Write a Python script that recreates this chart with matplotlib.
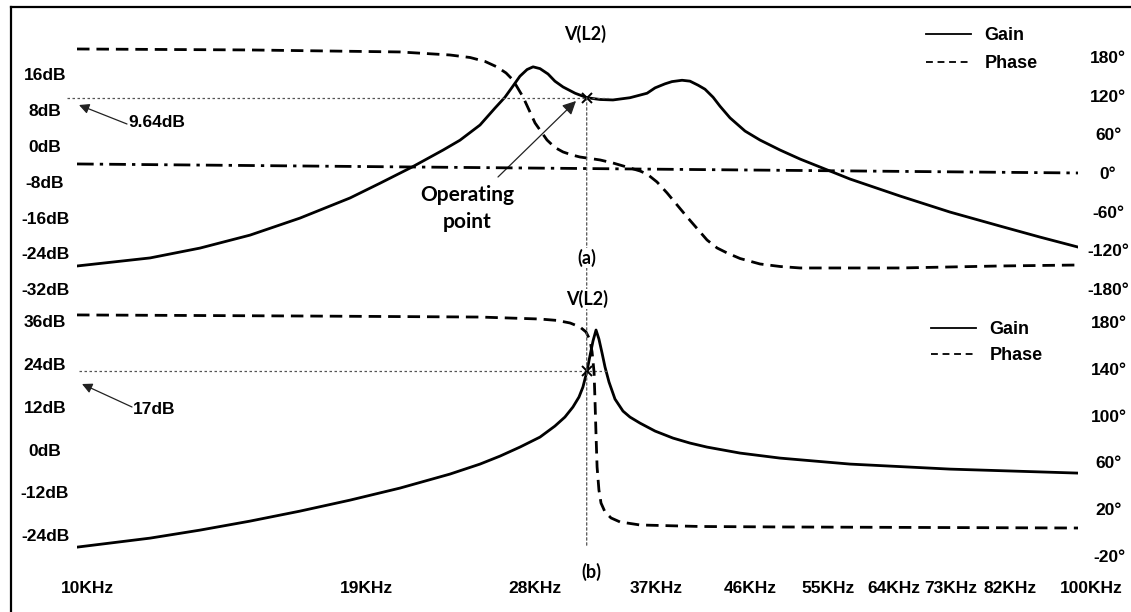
import numpy as np
import matplotlib
matplotlib.use("Agg")
import matplotlib.pyplot as plt
from matplotlib.lines import Line2D
from matplotlib.patches import ConnectionPatch
from matplotlib.transforms import ScaledTranslation
from matplotlib.ticker import NullLocator

# ---------------- data ----------------
freq_ticks_khz = [10, 19, 28, 37, 46, 55, 64, 73, 82, 100]
freq_tick_labels = ["10KHz", "19KHz", "28KHz", "37KHz", "46KHz",
                    "55KHz", "64KHz", "73KHz", "82KHz", "100KHz"]

gain_a_ticks = [16, 8, 0, -8, -16, -24, -32]
phase_a_ticks = [180, 120, 60, 0, -60, -120, -180]
gain_b_ticks = [36, 24, 12, 0, -12, -24]
phase_b_ticks = [180, 140, 100, 60, 20, -20]

# (a) gain  [kHz, dB]
gain_a_freq = [10.0, 11.83, 13.27, 14.89, 16.70, 18.74, 20.08, 21.61, 23.21, 24.13,
               25.27, 26.16, 26.76, 27.26, 27.70, 28.16, 28.55, 29.01, 29.55, 30.02,
               30.59, 31.45, 32.32, 33.31, 34.31, 35.68, 37.11, 37.80, 38.67, 39.30,
               40.22, 40.96, 41.73, 42.40, 43.20, 43.89, 44.91, 46.49, 48.12, 50.39,
               52.77, 59.19, 66.41, 74.49, 83.58, 91.62, 100.0]
gain_a_db = [-26.8, -25.0, -22.8, -19.9, -16.1, -11.6, -8.3, -4.7, -0.9, 1.3,
             4.7, 8.5, 10.9, 13.4, 15.6, 17.1, 17.7, 17.3, 16.1, 14.5,
             13.2, 11.8, 10.8, 10.4, 10.3, 10.8, 11.8, 13.0, 13.9, 14.4,
             14.7, 14.5, 13.6, 12.7, 10.9, 8.9, 6.3, 3.35, 1.34, -0.89,
             -2.91, -7.37, -11.17, -14.75, -17.88, -20.34, -22.57]

# (a) phase  [kHz, deg]
phase_a_freq = [10.0, 14.89, 21.02, 23.58, 24.70, 25.57, 26.28, 26.83, 27.26, 27.90,
                28.68, 29.48, 30.02, 30.59, 31.23, 31.80, 33.31, 34.31, 35.68, 36.51,
                37.11, 37.97, 38.86, 40.69, 42.60, 43.60, 44.61, 45.96, 48.12, 50.39,
                52.77, 66.41, 83.58, 100.0]
phase_a_deg = [192.4, 190.9, 187.8, 183.1, 179.2, 173.0, 164.5, 155.2, 144.3, 117.9,
               77.6, 51.2, 39.6, 32.6, 27.9, 24.8, 20.2, 15.5, 7.8, 3.1,
               -1.6, -14.0, -31.0, -68.3, -104.0, -116.4, -124.1, -132.7, -141.2, -145.1,
               -147.4, -147.4, -144.3, -142.8]

# (a) dash-dot reference phase line
ref_a_freq = [10.0, 100.0]
ref_a_deg = [14.0, 0.0]

# (b) gain  [kHz, dB]
gain_b_freq = [10.0, 11.83, 13.27, 14.89, 16.70, 18.74, 21.02, 23.58, 25.27, 26.46,
               27.70, 29.01, 30.02, 30.72, 31.29, 31.73, 32.02, 32.32, 32.54, 32.77,
               33.00, 33.22, 33.46, 33.69, 34.00, 34.47, 35.11, 35.68, 36.51, 37.80,
               39.39, 40.96, 42.60, 45.96, 50.39, 59.19, 74.49, 100.0]
gain_b_db = [-27.39, -24.86, -22.61, -20.08, -17.28, -14.19, -10.81, -6.88, -4.07, -1.83,
             0.70, 3.51, 6.60, 9.13, 11.94, 14.75, 17.56, 22.05, 26.26, 30.48,
             33.57, 31.04, 27.11, 23.17, 18.96, 14.19, 10.81, 9.13, 7.44, 5.20,
             3.23, 1.83, 0.70, -0.98, -2.39, -4.07, -5.48, -6.60]

# (b) phase  [kHz, deg]
phase_b_freq = [10.0, 16.70, 25.27, 29.01, 30.17, 31.09, 31.80, 32.25, 32.54, 32.70,
                32.85, 32.92, 33.00, 33.08, 33.22, 33.38, 33.69, 34.16, 34.87, 36.51,
                41.93, 50.39, 100.0]
phase_b_deg = [186.2, 185.3, 184.4, 182.7, 181.5, 179.3, 175.9, 171.6, 164.8, 154.5,
               137.4, 113.4, 83.4, 56.0, 36.3, 25.1, 17.4, 12.3, 8.9, 6.3,
               5.0, 4.6, 3.7]

# operating point
op_freq_khz = 32.3
op_gain_a_db = 10.8
op_gain_b_db = 22.0
op_text_a = "9.64dB"
op_text_b = "17dB"

# ---------------- layout ----------------
W, H = 1131, 612
fig = plt.figure(figsize=(W / 100, H / 100), dpi=100)
fig.patch.set_facecolor("white")


def fx(px):
    return px / W


def fy(py):
    return 1 - py / H


X0, X1 = 77, 1078
axa = fig.add_axes([fx(X0), fy(300), (X1 - X0) / W, 290 / H])
axb = fig.add_axes([fx(X0), fy(560), (X1 - X0) / W, 260 / H])
axa2 = axa.twinx()
axb2 = axb.twinx()

for ax in (axa, axb, axa2, axb2):
    for s in ax.spines.values():
        s.set_visible(False)
    ax.set_facecolor("none")

for ax in (axa, axb):
    ax.set_xscale("log")
    ax.set_xlim(10, 100)
    ax.xaxis.set_minor_locator(NullLocator())

axa.set_ylim(-34.4, 30.4)
axa2.set_ylim(-197.1, 252.9)
axb.set_ylim(-31.0, 42.0)
axb2.set_ylim(-23.7, 199.0)

tick_font = dict(family="Liberation Sans", weight="bold", size=12.5)
calib = dict(family="Lato", weight="bold")


def style_y(ax, ticks, suffix, pad_px):
    ax.set_yticks(ticks)
    ax.set_yticklabels([f"{t}{suffix}" for t in ticks], fontdict=tick_font)
    ax.tick_params(axis="y", length=0, pad=pad_px * 0.72)
    for t in ax.get_yticklabels():
        t.set_ha("center")


style_y(axa, gain_a_ticks, "dB", 32)
style_y(axb, gain_b_ticks, "dB", 32)
style_y(axa2, phase_a_ticks, "°", 30)
style_y(axb2, phase_b_ticks, "°", 31)

axa.tick_params(axis="x", length=0, labelbottom=False)
axb.set_xticks(freq_ticks_khz)
axb.set_xticklabels(freq_tick_labels, fontdict=tick_font)
axb.tick_params(axis="x", length=0, pad=15)
label_shift_px = [10, 10, 10, 10, 10, 10, 10, 10, 18, 13]
for t, dx in zip(axb.get_xticklabels(), label_shift_px):
    t.set_transform(t.get_transform() + ScaledTranslation(dx / 100, 0, fig.dpi_scale_trans))

LW = 2.0
DASH = (0, (4.5, 2.5))

# ---- panel (a) ----
axa.plot(gain_a_freq, gain_a_db, color="black", lw=LW, solid_joinstyle="round")
axa2.plot(phase_a_freq, phase_a_deg, color="black", lw=LW, linestyle=DASH)
axa2.plot(ref_a_freq, ref_a_deg, color="black", lw=LW,
          linestyle=(0, (6, 2.2, 1.2, 2.2)))

# ---- panel (b) ----
axb.plot(gain_b_freq, gain_b_db, color="black", lw=LW, solid_joinstyle="round")
axb2.plot(phase_b_freq, phase_b_deg, color="black", lw=LW, linestyle=DASH)

# ---- operating-point guides ----
guide = dict(color="#555555", lw=0.9, linestyle=(0, (2, 2)))
guide_f_start_a, guide_f_start_b, guide_f_end = 9.77, 10.05, 33.9
axa.plot([guide_f_start_a, guide_f_end], [op_gain_a_db, op_gain_a_db], clip_on=False, **guide)
axb.plot([guide_f_start_b, guide_f_end], [op_gain_b_db, op_gain_b_db], clip_on=False, **guide)
con = ConnectionPatch(xyA=(op_freq_khz, op_gain_a_db), coordsA=axa.transData,
                      xyB=(op_freq_khz, -27.4), coordsB=axb.transData,
                      color="#555555", lw=0.9, linestyle=(0, (2, 2)))
fig.add_artist(con)
axa.plot([op_freq_khz], [op_gain_a_db], marker="x", ms=7, mew=1.4, color="black")
axb.plot([op_freq_khz], [op_gain_b_db], marker="x", ms=7, mew=1.4, color="black")

# ---- texts ----
fig.text(fx(585), fy(34), "V(L2)", ha="center", va="center", fontsize=13, **calib)
fig.text(fx(587), fy(299), "V(L2)", ha="center", va="center", fontsize=13,
         bbox=dict(fc="white", ec="none", pad=1), **calib)
fig.text(fx(587), fy(258), "(a)", ha="center", va="center", fontsize=13,
         bbox=dict(fc="white", ec="none", pad=1), **calib)
fig.text(fx(591), fy(572), "(b)", ha="center", va="center", fontsize=13,
         bbox=dict(fc="white", ec="none", pad=1), **calib)
fig.text(fx(467), fy(195), "Operating", ha="center", va="center", fontsize=15, **calib)
fig.text(fx(467), fy(222), "point", ha="center", va="center", fontsize=15, **calib)

fig.text(fx(128), fy(123), op_text_a, ha="left", va="center", **tick_font)
fig.text(fx(133), fy(409), op_text_b, ha="left", va="center", **tick_font)

arrow_small = dict(arrowstyle="-|>", color="#222222", lw=0.9, mutation_scale=15,
                   shrinkA=0, shrinkB=0)
axa.annotate("", xy=(79, H - 105), xytext=(127, H - 124), xycoords="figure pixels",
             textcoords="figure pixels", arrowprops=arrow_small)
axb.annotate("", xy=(82, H - 384), xytext=(132, H - 407), xycoords="figure pixels",
             textcoords="figure pixels", arrowprops=arrow_small)
axa.annotate("", xy=(576, H - 101), xytext=(498, H - 177), xycoords="figure pixels",
             textcoords="figure pixels",
             arrowprops=dict(arrowstyle="-|>", color="#222222", lw=0.9,
                             mutation_scale=20, shrinkA=0, shrinkB=0))

# ---- legends ----
leg_handles = [Line2D([], [], color="black", lw=1.3),
               Line2D([], [], color="black", lw=1.3, linestyle=(0, (3.8, 2.6)))]
leg_kw = dict(loc="upper left", frameon=False, borderpad=0, borderaxespad=0,
              handlelength=2.5, handletextpad=0.75,
              prop=dict(family="Liberation Sans", weight="bold", size=13))
axa2.legend(leg_handles, ["Gain", "Phase"], bbox_to_anchor=(fx(926), fy(27)),
            bbox_transform=fig.transFigure, labelspacing=0.62, **leg_kw)
axb2.legend(leg_handles, ["Gain", "Phase"], bbox_to_anchor=(fx(931), fy(321)),
            bbox_transform=fig.transFigure, labelspacing=0.5, **leg_kw)

# ---- outer frame ----
fig.add_artist(Line2D([fx(11), fx(11)], [fy(6.5), 0], transform=fig.transFigure,
                      color="black", lw=1.6))
fig.add_artist(Line2D([fx(11), 1], [fy(6.5), fy(6.5)], transform=fig.transFigure,
                      color="black", lw=1.6))

fig.savefig("out.png", dpi=100, facecolor="white")
